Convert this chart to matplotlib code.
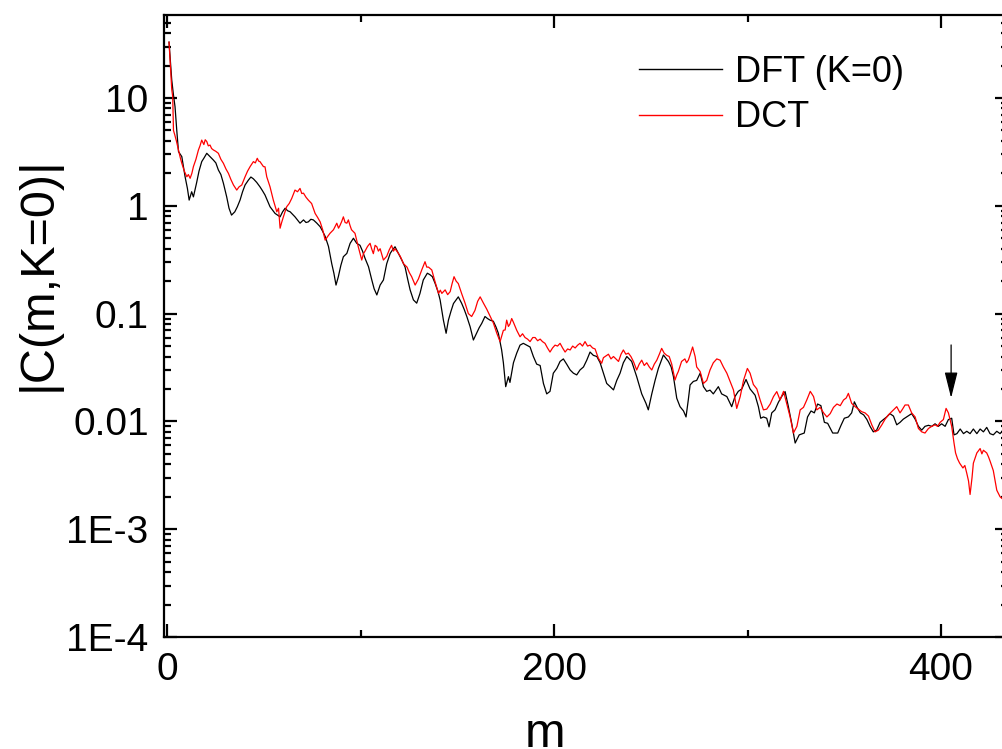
import matplotlib
matplotlib.use("Agg")
import matplotlib.pyplot as plt
from matplotlib.ticker import FixedLocator, FixedFormatter, LogLocator, NullFormatter

plt.rcParams['font.family'] = ['Liberation Sans', 'DejaVu Sans']

# ---- data ----
m_dft = [1, 2.4, 3.2, 4.1, 5.0, 5.9, 7.6, 9.3, 10.5, 11.4, 12.7, 13.6, 15.2, 16.5, 17.9, 19.2, 20.5,
         22.2, 23.9, 25.2, 26.5, 27.8, 29.1, 30.8, 32, 33.3, 35, 36.3, 37.7, 39, 40.3, 42, 43.3, 44.6,
         46.3, 48, 49.3, 50.6, 52, 53.2, 55.8, 58.4, 59.7, 61, 62.3, 63.6, 66.1, 68.7, 70.5, 71.8, 73,
         74.3, 75.6, 77.4, 79.1, 80.4, 81.7, 83.4, 85.1, 86.2, 87.3, 88.5, 89.8, 91.1, 92.9, 94.6, 96.3,
         98, 99.7, 101, 102.3, 104.1, 105.8, 107, 108.4, 110.1, 111.8, 113.5, 115.3, 116.5, 117.8, 119.6,
         121.3, 123, 124.3, 125.6, 127.3, 129, 130.7, 132.4, 134.5, 135.8, 137.1, 138.5, 140, 141.1,
         142.8, 144.2, 145.4, 146.7, 148, 150.5, 152.2, 153.5, 154.9, 156.6, 158.3, 160, 161.3, 162.6,
         164.3, 165.6, 166.9, 168.6, 170, 171.2, 172.9, 173.8, 175, 176.4, 177.2, 179, 180.7, 182.4,
         184.1, 185.8, 187.6, 189.3, 191, 192.8, 194.5, 196.2, 197.9, 199.6, 201.4, 203.1, 204.8, 206.5,
         208.3, 210, 211.7, 213.4, 215.2, 216.9, 218.6, 220.3, 222.1, 223.8, 225.5, 227.2, 229, 230.7,
         232.4, 234.1, 235.8, 237.6, 240.1, 242.7, 245.3, 247.5, 248.7, 250.5, 252.2, 253.9, 256.5,
         259.1, 260.5, 261.7, 263.4, 265.1, 266.9, 268.2, 269.4, 270.3, 272, 273.7, 275.5, 277.2, 278.9,
         280.6, 282.3, 284.9, 286.6, 289.3, 291.8, 293.5, 295.2, 297, 299.2, 301.3, 303.9, 305.6, 306.8,
         308.2, 309.9, 311.1, 312.5, 314.2, 315.9, 317.6, 319.4, 321.1, 322.8, 324.6, 326.7, 329.3, 331,
         332.8, 334.5, 336.2, 337.9, 339.7, 341.4, 344, 346.6, 348.3, 350, 352.1, 353.8, 355.2, 356.6,
         358.3, 360, 361.7, 363.3, 365, 366.7, 368.5, 370.2, 371.9, 373.6, 375.4, 377.1, 378.8, 380.5,
         382.2, 384.8, 386.6, 388.3, 390, 391.7, 393.5, 395.2, 396.9, 398.6, 400.3, 402.1, 403.8, 405.5,
         406.7, 408.2, 409.9, 411.6, 413.3, 415, 416.7, 418.5, 420.2, 421.9, 423.6, 425.3, 427, 428.8,
         430.5, 432.5, 434.6]
c_dft = [33, 14.7, 11, 8.3, 5.0, 3.18, 2.86, 1.86, 1.45, 1.13, 1.35, 1.21, 1.62, 2.1, 2.57, 2.8, 3.07,
         2.86, 2.66, 2.5, 2.15, 1.95, 1.62, 1.21, 0.95, 0.82, 0.88, 0.98, 1.13, 1.35, 1.56, 1.73, 1.85,
         1.78, 1.65, 1.50, 1.38, 1.26, 1.1, 0.98, 0.85, 0.79, 0.88, 0.95, 0.9, 0.88, 0.79, 0.69, 0.74,
         0.7, 0.71, 0.75, 0.74, 0.69, 0.64, 0.58, 0.52, 0.42, 0.29, 0.237, 0.184, 0.22, 0.28, 0.337,
         0.362, 0.449, 0.50, 0.449, 0.43, 0.38, 0.326, 0.272, 0.205, 0.17, 0.149, 0.184, 0.205, 0.29,
         0.362, 0.39, 0.417, 0.36, 0.314, 0.27, 0.21, 0.166, 0.134, 0.125, 0.154, 0.205, 0.237, 0.23,
         0.22, 0.191, 0.16, 0.134, 0.087, 0.0657, 0.087, 0.105, 0.124, 0.143, 0.125, 0.11, 0.094, 0.0757,
         0.0569, 0.066, 0.074, 0.081, 0.094, 0.09, 0.087, 0.085, 0.075, 0.0657, 0.046, 0.035, 0.021,
         0.026, 0.023, 0.035, 0.043, 0.051, 0.053, 0.051, 0.049, 0.04, 0.034, 0.033, 0.0225, 0.018,
         0.019, 0.028, 0.031, 0.036, 0.038, 0.034, 0.03, 0.028, 0.027, 0.030, 0.032, 0.037, 0.044, 0.041,
         0.04, 0.035, 0.028, 0.0225, 0.021, 0.0196, 0.024, 0.028, 0.035, 0.040, 0.036, 0.026, 0.018,
         0.0147, 0.0128, 0.018, 0.024, 0.031, 0.0413, 0.036, 0.032, 0.026, 0.0164, 0.0137, 0.0125, 0.011,
         0.016, 0.0218, 0.0235, 0.024, 0.028, 0.021, 0.019, 0.0195, 0.018, 0.021, 0.018, 0.017, 0.0137,
         0.017, 0.019, 0.020, 0.0245, 0.02, 0.0175, 0.0137, 0.0107, 0.011, 0.0107, 0.0089, 0.012, 0.0128,
         0.015, 0.017, 0.0189, 0.0137, 0.0096, 0.0063, 0.0075, 0.0078, 0.011, 0.0125, 0.012, 0.0145,
         0.014, 0.0098, 0.0096, 0.0078, 0.0078, 0.0092, 0.0107, 0.011, 0.012, 0.0152, 0.0135, 0.012,
         0.0115, 0.0104, 0.009, 0.008, 0.0083, 0.0098, 0.0104, 0.011, 0.0118, 0.0112, 0.0093, 0.0098,
         0.0105, 0.011, 0.0118, 0.0105, 0.009, 0.0083, 0.009, 0.0092, 0.009, 0.0095, 0.009, 0.0095,
         0.009, 0.0104, 0.0107, 0.0075, 0.0077, 0.0085, 0.0077, 0.0081, 0.0077, 0.0085, 0.0077, 0.0085,
         0.008, 0.0088, 0.0077, 0.0075, 0.0081, 0.0077, 0.0085, 0.008]

m_dct = [1, 2.4, 2.9, 3.3, 3.9, 4.8, 5.9, 6.8, 7.6, 8.9, 10.2, 11.0, 11.9, 12.8, 13.6, 14.9, 16.2, 17.0,
         17.9, 19.0, 19.7, 20.5, 21.3, 22.2, 23.0, 23.9, 25.2, 26.5, 27.8, 29.1, 30.4, 31.7, 33.0, 34.3,
         36, 37.2, 38.6, 40.3, 41.6, 42.9, 44.6, 45.6, 46.6, 47.3, 48, 49.8, 50.6, 51.5, 53.2, 54.9,
         56.7, 57.6, 58.4, 59.2, 60.1, 61.8, 63.1, 64.4, 66.1, 67.4, 68.7, 69.6, 70.5, 71.8, 73, 74.7,
         76.5, 77.8, 79.1, 80.4, 81.7, 83, 84.2, 86, 87.7, 88.6, 89.4, 90.3, 91.1, 92.0, 92.9, 93.7,
         94.5, 95.3, 97.1, 98.8, 100.6, 101.5, 102.3, 103.6, 104.9, 105.7, 106.6, 107.5, 108.4, 109.2,
         110.1, 111.8, 113.5, 114.8, 116, 117, 117.8, 119.2, 120.5, 122.2, 124, 125.2, 126.4, 128.2,
         129.9, 131.6, 133.3, 134.2, 135.1, 136.8, 138.5, 140.3, 141.2, 142, 143.7, 145, 146.3, 147.3,
         148.3, 149.4, 150.5, 152.2, 154, 155.7, 157.4, 159.1, 160.5, 161.8, 163.5, 165.2, 167, 168.6,
         170.4, 172.1, 173.8, 174.7, 175.5, 176.4, 177.2, 178.1, 179, 180.7, 182.4, 183.7, 185, 186.3,
         187.6, 189, 190.2, 191.5, 192.8, 194, 195.3, 196.6, 197.9, 199.2, 200.5, 201.8, 203.1, 204.4,
         205.7, 207, 208.3, 209.6, 210.9, 212.2, 213.4, 214.7, 216, 217.3, 218.6, 219.9, 221.2, 222.9,
         224.6, 225.5, 226.4, 228.1, 229.4, 230.7, 232, 233.3, 234.6, 235.8, 237.1, 238.4, 239.7, 241,
         242.7, 244, 245.3, 246.6, 247.9, 249.2, 250.5, 251.8, 253.1, 254.4, 255.6, 256.9, 258.2, 259.5,
         260.8, 262.5, 263.4, 264.2, 265.9, 267.6, 268.5, 269.4, 270.3, 271.6, 272.9, 273.7, 275.5,
         277.2, 278.9, 280.6, 282.3, 284.1, 285.8, 287.5, 289.3, 291, 292.7, 294.4, 296.2, 297.9, 299.9,
         301.3, 303, 304.8, 306.5, 308.2, 309.9, 311.7, 313.4, 315.1, 316.8, 318.6, 320.3, 322, 323.7,
         325.5, 327.2, 328.9, 330.6, 332.4, 334.1, 335.8, 337.5, 339.3, 341, 342.7, 344.4, 346.2, 347.9,
         349.6, 351, 352.1, 353.8, 355.6, 357.3, 359, 360.7, 362.5, 364.2, 365.9, 367.6, 369.4, 371.1,
         372.8, 375.4, 377.1, 378.8, 380.1, 381.4, 383.1, 384.8, 386.6, 388.3, 390, 391.7, 393.5, 395.2,
         396.9, 398.2, 399.5, 401.2, 402.6, 403.8, 405.5, 406.7, 407.5, 408.5, 409.6, 411.3, 412.3,
         413.3, 414.2, 415, 416, 416.7, 418.5, 420.2, 421.1, 421.9, 423.6, 424.5, 425.3, 427, 428.8,
         430.5, 431.9, 433, 434.6]
c_dct = [33, 12, 10.3, 5.0, 4.6, 4.0, 3.3, 2.8, 2.48, 2.1, 1.86, 1.95, 1.8, 2.0, 2.31, 2.7, 3.3, 3.6,
         4.07, 3.7, 4.1, 3.95, 3.6, 3.66, 3.4, 3.3, 3.2, 3.07, 2.7, 2.48, 2.2, 2.0, 1.75, 1.56, 1.40,
         1.5, 1.56, 1.86, 2.1, 2.31, 2.57, 2.5, 2.76, 2.6, 2.57, 2.31, 2.3, 1.86, 1.50, 1.13, 0.88, 0.95,
         0.62, 0.7, 0.79, 0.98, 1.05, 1.17, 1.40, 1.35, 1.45, 1.3, 1.31, 1.2, 1.13, 1.05, 0.85, 0.78,
         0.71, 0.6, 0.48, 0.52, 0.556, 0.6, 0.69, 0.62, 0.66, 0.72, 0.79, 0.7, 0.69, 0.74, 0.66, 0.60,
         0.556, 0.417, 0.314, 0.36, 0.38, 0.42, 0.449, 0.4, 0.36, 0.43, 0.417, 0.38, 0.4, 0.314, 0.34,
         0.39, 0.43, 0.38, 0.4, 0.37, 0.34, 0.29, 0.27, 0.24, 0.22, 0.184, 0.21, 0.254, 0.303, 0.27,
         0.27, 0.254, 0.197, 0.154, 0.165, 0.154, 0.166, 0.15, 0.16, 0.19, 0.22, 0.2, 0.19, 0.154, 0.125,
         0.10, 0.094, 0.107, 0.13, 0.143, 0.125, 0.11, 0.094, 0.082, 0.0657, 0.055, 0.07, 0.0705, 0.087,
         0.076, 0.08, 0.09, 0.083, 0.07, 0.061, 0.065, 0.06, 0.058, 0.055, 0.06, 0.06, 0.056, 0.058,
         0.055, 0.053, 0.048, 0.044, 0.048, 0.051, 0.05, 0.053, 0.048, 0.044, 0.047, 0.046, 0.05, 0.048,
         0.051, 0.053, 0.05, 0.055, 0.05, 0.051, 0.048, 0.047, 0.0385, 0.0346, 0.039, 0.04, 0.042, 0.038,
         0.04, 0.038, 0.036, 0.042, 0.046, 0.042, 0.043, 0.04, 0.036, 0.030, 0.034, 0.037, 0.033, 0.035,
         0.032, 0.030, 0.034, 0.037, 0.042, 0.0476, 0.043, 0.041, 0.04, 0.034, 0.0242, 0.027, 0.029,
         0.036, 0.038, 0.035, 0.037, 0.0413, 0.049, 0.04, 0.032, 0.029, 0.0225, 0.024, 0.03, 0.035,
         0.038, 0.037, 0.032, 0.028, 0.0235, 0.0196, 0.0132, 0.017, 0.024, 0.031, 0.028, 0.022, 0.02,
         0.0158, 0.0128, 0.013, 0.0145, 0.017, 0.0189, 0.0158, 0.019, 0.0145, 0.011, 0.0078, 0.009,
         0.0128, 0.0135, 0.0158, 0.019, 0.017, 0.0128, 0.0135, 0.012, 0.011, 0.0118, 0.0135, 0.0145,
         0.014, 0.0158, 0.0165, 0.0182, 0.0147, 0.0137, 0.013, 0.0123, 0.012, 0.0112, 0.0093, 0.008,
         0.0083, 0.0093, 0.0105, 0.0115, 0.0128, 0.0137, 0.012, 0.013, 0.0142, 0.0142, 0.012, 0.011,
         0.0086, 0.008, 0.0078, 0.0086, 0.009, 0.0093, 0.009, 0.0098, 0.0104, 0.0132, 0.012, 0.009,
         0.0063, 0.0051, 0.0045, 0.0041, 0.0037, 0.0039, 0.0033, 0.0028, 0.0021, 0.003, 0.0041, 0.0051,
         0.0056, 0.005, 0.0054, 0.0051, 0.0047, 0.0043, 0.0035, 0.0023, 0.002, 0.0019, 0.0021, 0.0019]

y_ticks = [1e-4, 1e-3, 1e-2, 1e-1, 1, 10]
y_tick_labels = ['1E-4', '1E-3', '0.01', '0.1', '1', '10']
x_ticks = [0, 200, 400]
x_tick_labels = ['0', '200', '400']
series_labels = ['DFT (K=0)', 'DCT']
arrow_m, arrow_tip, arrow_tail = 405.2, 0.0165, 0.0512

# ---- figure ----
fig = plt.figure(figsize=(10.03, 7.49), dpi=100)
ax = fig.add_axes([164 / 1003, (749 - 637) / 749, (1008 - 164) / 1003, (637 - 15) / 749])

ax.plot(m_dft, c_dft, color='black', lw=0.9, label=series_labels[0])
ax.plot(m_dct, c_dct, color='#ff0000', lw=0.9, label=series_labels[1])

ax.set_yscale('log')
ax.set_xlim(-1.6, 434.6)
ax.set_ylim(1e-4, 58.9)

ax.yaxis.set_major_locator(FixedLocator(y_ticks))
ax.yaxis.set_major_formatter(FixedFormatter(y_tick_labels))
ax.yaxis.set_minor_locator(LogLocator(base=10, subs=range(2, 10), numticks=20))
ax.yaxis.set_minor_formatter(NullFormatter())
ax.set_xticks(x_ticks)
ax.set_xticklabels(x_tick_labels)
ax.set_xticks([100, 300], minor=True)

for s in ax.spines.values():
    s.set_linewidth(1.6)
ax.tick_params(which='both', direction='in', top=True, right=True, labelsize=28, width=1.6)
ax.tick_params(which='major', length=9.5, pad=11)
ax.tick_params(which='minor', length=5)

ax.set_xlabel('m', fontsize=35)
ax.set_ylabel('|C(m,K=0)|', fontsize=35)
ax.xaxis.set_label_coords(0.4514, -0.1206)
ax.yaxis.set_label_coords(-0.123, 0.5836)

ax.annotate('', xy=(arrow_m, arrow_tip), xytext=(arrow_m, arrow_tail),
            arrowprops=dict(arrowstyle='-|>,head_width=0.2,head_length=0.8', color='black', lw=0.9,
                            mutation_scale=20, shrinkA=0, shrinkB=0))

leg = ax.legend(loc='upper left', bbox_to_anchor=(0.5628, 0.936), frameon=False, fontsize=26,
                handlelength=2.3, handletextpad=0.35, labelspacing=0.29, borderpad=0, borderaxespad=0)
for h in leg.get_lines():
    h.set_linewidth(1.0)

fig.savefig('out.png', dpi=100)
